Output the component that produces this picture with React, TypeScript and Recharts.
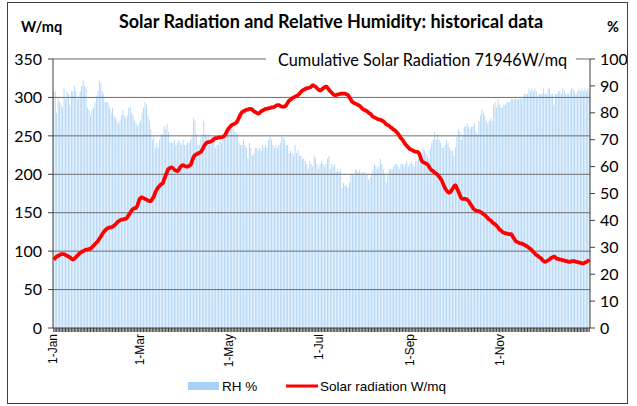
import React from 'react';
import {
  ComposedChart,
  Bar,
  Line,
  XAxis,
  YAxis,
  ReferenceLine,
} from 'recharts';

// daily values, one entry per day of the year (365)
const MONTHS = ['Jan', 'Feb', 'Mar', 'Apr', 'May', 'Jun', 'Jul', 'Aug', 'Sep', 'Oct', 'Nov', 'Dec'];
const DAYS_IN_MONTH = [31, 28, 31, 30, 31, 30, 31, 31, 30, 31, 30, 31];
const LABELED_DATES = ['1-Jan', '1-Mar', '1-May', '1-Jul', '1-Sep', '1-Nov'];

const LEFT_TICKS = [0, 50, 100, 150, 200, 250, 300, 350];
const RIGHT_TICKS = [0, 10, 20, 30, 40, 50, 60, 70, 80, 90, 100];

// relative humidity, %
const RH = [
  // Jan - Feb
  88, 88, 80, 86, 84, 83, 82, 89, 85, 88, 87, 83, 88, 88, 90, 88, 85, 86, 88, 90,
  92, 90, 89, 82, 81, 79, 81, 82, 84, 86, 88, 92, 91, 88, 87, 84, 84, 84, 82, 80,
  82, 79, 78, 77, 76, 77, 79, 81, 79, 78, 79, 82, 82, 80, 79, 77, 76, 75, 76,
  // Mar - Apr
  77, 80, 82, 84, 83, 79, 77, 74, 70, 71, 67, 69, 67, 70, 72, 72, 75, 74, 76, 73,
  69, 69, 69, 70, 68, 69, 70, 69, 68, 70, 68, 68, 69, 69, 70, 71, 78, 77, 72, 68,
  68, 70, 72, 77, 72, 71, 72, 70, 71, 71, 69, 67, 68, 68, 71, 69, 70, 71, 72, 72, 73,
  // May - Jun
  74, 74, 74, 73, 73, 72, 69, 68, 68, 70, 68, 67, 63, 69, 67, 64, 65, 67, 67, 66,
  67, 66, 68, 67, 68, 67, 70, 71, 70, 68, 67, 68, 67, 68, 69, 71, 71, 70, 68, 68,
  65, 66, 65, 64, 68, 65, 66, 64, 64, 63, 63, 62, 61, 59, 62, 61, 60, 64, 63, 61, 59,
  // Jul - Aug
  61, 62, 61, 60, 61, 63, 64, 59, 61, 60, 61, 58, 59, 58, 59, 52, 54, 53, 53, 52,
  54, 57, 57, 57, 59, 59, 58, 59, 57, 58, 58, 57, 57, 55, 56, 57, 59, 61, 60, 59,
  60, 63, 61, 59, 57, 54, 57, 59, 59, 59, 60, 61, 61, 60, 59, 61, 61, 60, 61, 62, 60, 61,
  // Sep - Oct
  62, 61, 60, 62, 62, 63, 65, 64, 67, 66, 65, 64, 63, 67, 69, 70, 73, 70, 72, 70,
  69, 67, 67, 68, 70, 69, 67, 66, 66, 64, 67, 71, 74, 73, 70, 72, 75, 75, 76, 75,
  74, 75, 75, 76, 73, 72, 77, 79, 81, 80, 79, 77, 76, 77, 78, 77, 83, 84, 82, 85, 83,
  // Nov - Dec
  82, 82, 83, 83, 84, 84, 84, 85, 85, 85, 86, 85, 85, 86, 85, 86, 87, 87, 87, 89,
  88, 89, 88, 89, 88, 86, 87, 87, 87, 89, 87, 87, 89, 89, 87, 87, 83, 87, 87, 88,
  88, 87, 89, 88, 87, 87, 87, 88, 89, 89, 88, 87, 88, 89, 88, 89, 88, 89, 88, 89, 88,
];

// solar radiation, W/mq
const SOLAR = [
  // Jan - Feb
  89, 91, 93, 94, 95, 96, 96, 96, 95, 94, 93, 92, 90, 89, 90, 92, 94, 96, 98, 99,
  100, 101, 102, 102, 103, 103, 105, 107, 109, 111, 113, 116, 119, 122, 125, 127, 129, 130, 131, 131,
  132, 133, 135, 137, 139, 140, 141, 141, 142, 142, 144, 147, 150, 153, 155, 156, 156, 160, 166,
  // Mar - Apr
  169, 170, 169, 168, 167, 166, 165, 165, 168, 171, 176, 180, 183, 185, 187, 188, 193, 198, 203, 207,
  208, 209, 208, 206, 205, 204, 206, 209, 211, 212, 211, 210, 210, 211, 212, 217, 222, 225, 226, 227,
  228, 229, 232, 236, 239, 241, 242, 242, 243, 244, 246, 247, 247, 248, 248, 248, 249, 250, 253, 257, 260,
  // May - Jun
  262, 264, 265, 266, 267, 270, 274, 278, 281, 282, 283, 284, 284, 285, 285, 284, 282, 281, 280, 279,
  280, 282, 283, 284, 285, 285, 286, 286, 287, 287, 288, 289, 290, 290, 289, 288, 288, 288, 290, 293,
  296, 297, 299, 300, 301, 302, 303, 305, 307, 309, 310, 311, 312, 312, 313, 314, 316, 315, 314, 312, 310,
  // Jul - Aug
  309, 310, 312, 313, 314, 313, 310, 308, 306, 304, 303, 303, 304, 304, 305, 305, 305, 305, 304, 303,
  300, 297, 294, 293, 292, 291, 290, 289, 287, 285, 284, 283, 282, 280, 279, 277, 275, 274, 273, 272,
  271, 271, 270, 269, 267, 265, 264, 263, 261, 260, 258, 257, 255, 253, 250, 247, 245, 242, 239, 237, 235, 233,
  // Sep - Oct
  232, 231, 230, 229, 229, 228, 224, 218, 216, 215, 214, 213, 210, 207, 205, 204, 202, 201, 199, 197,
  194, 191, 186, 182, 179, 177, 176, 178, 181, 184, 186, 182, 178, 173, 169, 168, 168, 168, 167, 165,
  162, 159, 156, 154, 153, 152, 152, 151, 150, 148, 147, 145, 143, 141, 140, 138, 136, 135, 133, 131, 128,
  // Nov - Dec
  127, 125, 124, 123, 123, 122, 122, 122, 119, 116, 113, 112, 111, 110, 110, 109, 108, 107, 106, 104,
  103, 101, 99, 97, 95, 94, 92, 91, 89, 87, 86, 87, 88, 89, 91, 92, 93, 92, 90, 90,
  89, 89, 88, 88, 87, 87, 86, 86, 87, 87, 87, 86, 86, 85, 85, 84, 84, 85, 86, 87, 89,
];

const DATES: string[] = [];
MONTHS.forEach((m, i) => {
  for (let d = 1; d <= DAYS_IN_MONTH[i]; d++) DATES.push(`${d}-${m}`);
});

const data = DATES.map((date, i) => ({ date, rh: RH[i], solar: SOLAR[i] }));

const AXIS_COLOR = '#404040';
const GRID_COLOR = '#6e6e6e';

function DateTick(props: any) {
  const { x, y, payload } = props;
  if (!LABELED_DATES.includes(payload.value)) return <g />;
  return (
    <text
      x={0}
      y={0}
      transform={`translate(${x + 3},${y}) rotate(-90)`}
      textAnchor="end"
      fontSize={12}
      fontFamily="'Liberation Sans', Arial, sans-serif"
      fill="#000"
    >
      {payload.value}
    </text>
  );
}

export default function App() {
  return (
    <div style={{ position: 'absolute', left: 0, top: 0, width: 637, height: 406, background: '#fff' }}>
      <ComposedChart
        width={637}
        height={406}
        data={data}
        margin={{ top: 59, right: 0, bottom: 0, left: 0 }}
        barCategoryGap="22%"
      >
        <XAxis
          dataKey="date"
          interval={0}
          height={78}
          tickSize={4}
          tick={<DateTick />}
          tickLine={{ stroke: AXIS_COLOR }}
          axisLine={{ stroke: AXIS_COLOR }}
        />
        <YAxis
          yAxisId="left"
          domain={[0, 350]}
          ticks={LEFT_TICKS}
          width={53}
          tickSize={5}
          tickMargin={6}
          axisLine={{ stroke: AXIS_COLOR }}
          tickLine={{ stroke: AXIS_COLOR }}
          tick={{ fill: '#000', fontSize: 16, fontFamily: 'Lato, sans-serif' }}
        />
        <YAxis
          yAxisId="right"
          orientation="right"
          domain={[0, 100]}
          ticks={RIGHT_TICKS}
          width={47}
          tickSize={5}
          tickMargin={5}
          axisLine={{ stroke: AXIS_COLOR }}
          tickLine={{ stroke: AXIS_COLOR }}
          tick={{ fill: '#000', fontSize: 16, fontFamily: 'Lato, sans-serif', textAnchor: 'start' }}
        />
        <Bar yAxisId="right" dataKey="rh" fill="#A9D1F6" isAnimationActive={false} />
        {LEFT_TICKS.filter((v) => v > 0).map((v) => (
          <ReferenceLine
            key={v}
            yAxisId="left"
            y={v}
            stroke={v === 350 ? '#9a9a9a' : GRID_COLOR}
            strokeWidth={v === 350 ? 1.5 : 1}
          />
        ))}
        <Line
          yAxisId="left"
          type="monotone"
          dataKey="solar"
          stroke="#FF0000"
          strokeWidth={3.75}
          dot={false}
          isAnimationActive={false}
        />
      </ComposedChart>
      <svg
        width={637}
        height={406}
        style={{ position: 'absolute', left: 0, top: 0, pointerEvents: 'none' }}
      >
        <rect x={7.5} y={2.5} width={620} height={401} fill="none" stroke="#404040" />
        <text x={331} y={28} textAnchor="middle" fontSize={18} fontWeight="bold" fontFamily="Lato, sans-serif" fill="#000">
          Solar Radiation and Relative Humidity: historical data
        </text>
        <text x={21} y={32} fontSize={14.5} fontWeight="bold" fontFamily="Lato, sans-serif" fill="#000">
          W/mq
        </text>
        <text x={607} y={32} fontSize={14.5} fontWeight="bold" fontFamily="Lato, sans-serif" fill="#000">
          %
        </text>
        <rect x={266} y={50} width={310} height={20} fill="#fff" />
        <text x={278} y={66} fontSize={16.3} fontFamily="Lato, sans-serif" fill="#000">
          Cumulative Solar Radiation 71946W/mq
        </text>
        <rect x={188} y={382} width={31} height={8} fill="#A9D1F6" />
        <text x={222} y={391} fontSize={13.5} fontFamily="'Liberation Sans', Arial, sans-serif" fill="#000">
          RH %
        </text>
        <line x1={286} y1={386} x2={318} y2={386} stroke="#FF0000" strokeWidth={3} />
        <text x={320} y={391} fontSize={13.5} fontFamily="'Liberation Sans', Arial, sans-serif" fill="#000">
          Solar radiation W/mq
        </text>
      </svg>
    </div>
  );
}
